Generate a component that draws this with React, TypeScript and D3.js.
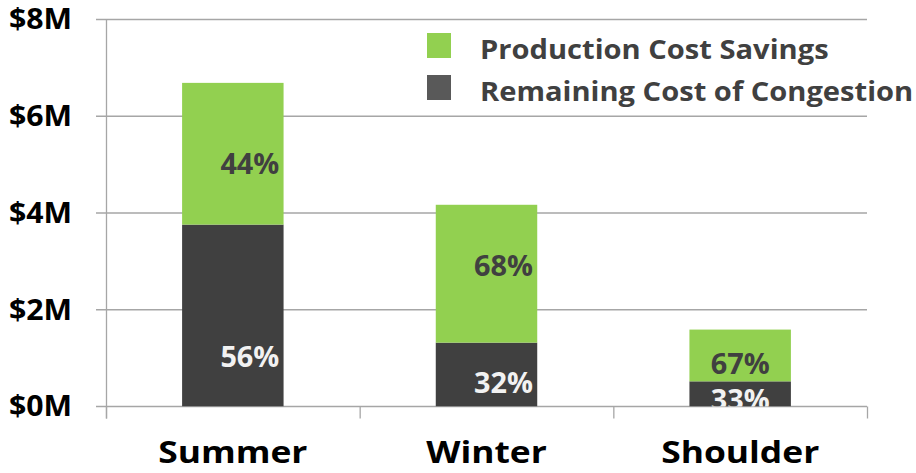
import React from "react";
import * as d3 from "d3";

const categories = ["Summer", "Winter", "Shoulder"];
const remainingCost = [3.76, 1.32, 0.52];
const productionSavings = [2.93, 2.85, 1.07];
const savingsPct = ["44%", "68%", "67%"];
const remainingPct = ["56%", "32%", "33%"];
const yTicks = [0, 2, 4, 6, 8];
const yTickLabels = ["$0M", "$2M", "$4M", "$6M", "$8M"];
const legendLabels = ["Production Cost Savings", "Remaining Cost of Congestion"];

// style-only offsets for the percentage labels (pixels)
const labelDx = [17, 17, 0];
const savingsDy = [10, -7.5, 9];
const remainingDy = [42, 9, 6];

const W = 916;
const H = 473;
const FONT = "'Open Sans', 'Noto Sans', sans-serif";
const GREEN = "#92D050";
const DARK = "#404040";
const GRID = "#A6A6A6";

export default function App() {
  const x = d3.scaleBand<string>().domain(categories).range([106, 867]).padding(0);
  const y = d3.scaleLinear().domain([0, 8]).range([406.5, 19.5]);
  const bw = x.bandwidth() * 0.4;

  return (
    <svg width={W} height={H} style={{ position: "absolute", left: 0, top: 0, background: "#fff" }}>
      <defs>
        <clipPath id="plotClip">
          <rect x={106} y={0} width={761} height={y(0)} />
        </clipPath>
      </defs>
      {/* gridlines */}
      {yTicks.map((t) => (
        <line key={t} x1={96} x2={867} y1={y(t)} y2={y(t)} stroke={GRID} strokeWidth={1.3} />
      ))}
      {/* y axis */}
      <line x1={106.5} x2={106.5} y1={y(8)} y2={y(0) + 12} stroke={GRID} strokeWidth={1.3} />
      {/* x ticks */}
      {[...categories.map((c) => x(c)!), 867].map((v, i) => (
        <line key={i} x1={v + 0.5} x2={v + 0.5} y1={y(0)} y2={y(0) + 12} stroke={GRID} strokeWidth={1.3} />
      ))}
      {/* y tick labels */}
      {yTicks.map((t, i) => (
        <text key={t} transform={`translate(72, ${y(t)}) scale(1.08, 1)`} dy="0.35em" textAnchor="end" fontFamily={FONT} fontWeight={700} fontSize={28} fill="#000">
          {yTickLabels[i]}
        </text>
      ))}
      {/* bars */}
      <g clipPath="url(#plotClip)">
        {categories.map((c, i) => {
          const bx = x(c)! + (x.bandwidth() - bw) / 2;
          const cx = bx + bw / 2;
          const r0 = y(0), r1 = y(remainingCost[i]);
          const s1 = y(remainingCost[i] + productionSavings[i]);
          return (
            <g key={c}>
              <rect x={bx} y={r1} width={bw} height={r0 - r1} fill={DARK} />
              <rect x={bx} y={s1} width={bw} height={r1 - s1} fill={GREEN} />
              <text transform={`translate(${cx + labelDx[i]}, ${(s1 + r1) / 2 + savingsDy[i]}) scale(1.03, 1)`} dy="0.35em" textAnchor="middle" fontFamily={FONT} fontWeight={700} fontSize={28} fill={DARK}>
                {savingsPct[i]}
              </text>
              <text transform={`translate(${cx + labelDx[i]}, ${(r1 + r0) / 2 + remainingDy[i]}) scale(1.03, 1)`} dy="0.35em" textAnchor="middle" fontFamily={FONT} fontWeight={700} fontSize={28} fill="#F2F2F2">
                {remainingPct[i]}
              </text>
            </g>
          );
        })}
      </g>
      {/* category labels */}
      {categories.map((c) => (
        <text key={c} transform={`translate(${x(c)! + x.bandwidth() / 2}, 463) scale(1.18, 1)`} textAnchor="middle" fontFamily={FONT} fontWeight={700} fontSize={30} fill="#000">
          {c}
        </text>
      ))}
      {/* legend */}
      {legendLabels.map((l, i) => (
        <g key={l} transform={`translate(427, ${33 + i * 42})`}>
          <rect x={0} y={0} width={24} height={25} fill={i === 0 ? GREEN : "#595959"} />
          <text transform="translate(53, 26) scale(1.12, 1)" fontFamily={FONT} fontWeight={700} fontSize={26} fill={DARK}>
            {l}
          </text>
        </g>
      ))}
    </svg>
  );
}
